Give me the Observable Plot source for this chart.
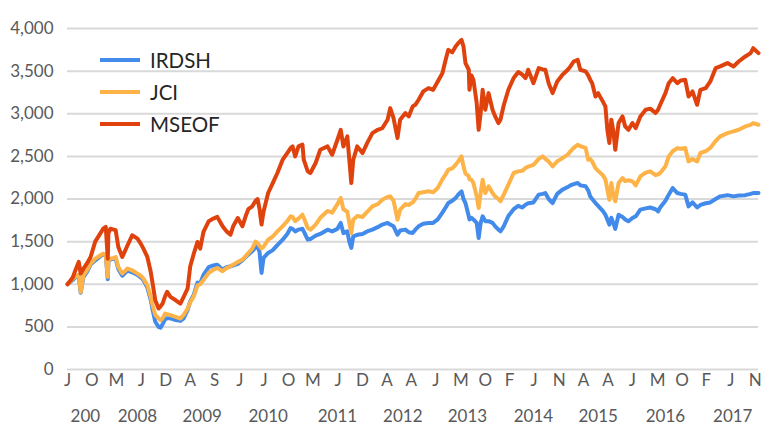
<!DOCTYPE html>
<html>
<head>
<meta charset="utf-8">
<script src="https://cdn.jsdelivr.net/npm/d3@7"></script>
<script src="https://cdn.jsdelivr.net/npm/@observablehq/plot@0.6"></script>
<style>
  html, body { margin: 0; padding: 0; background: #fff; }
  #wrap { position: relative; width: 763px; height: 433px; }
  #legend { position: absolute; left: 100px; top: 44px; font-family: Lato, sans-serif; font-size: 20.5px; color: #262626; }
  .row { display: flex; align-items: center; height: 32px; }
  .sw { width: 40px; height: 4px; margin-right: 10px; }
</style>
</head>
<body>
<div id="wrap"><div id="legend"></div></div>
<script>
const dates = [
2007.44,2007.52,2007.56,2007.61,2007.64,2007.68,2007.74,2007.79,2007.86,2007.94,
2007.98,2008.02,2008.05,2008.06,2008.09,2008.14,2008.17,2008.21,2008.27,2008.35,
2008.42,2008.50,2008.55,2008.59,2008.65,2008.70,2008.73,2008.77,2008.82,2008.85,
2008.88,2008.92,2008.95,2009.00,2009.08,2009.15,2009.20,2009.26,2009.30,2009.35,
2009.41,2009.45,2009.50,2009.58,2009.65,2009.71,2009.79,2009.85,2009.91,2009.95,
2010.02,2010.09,2010.14,2010.18,2010.24,2010.29,2010.32,2010.35,2010.38,2010.41,
2010.48,2010.55,2010.62,2010.70,2010.77,2010.82,2010.85,2010.89,2010.94,2011.00,
2011.02,2011.08,2011.12,2011.20,2011.27,2011.38,2011.45,2011.53,2011.58,2011.62,
2011.68,2011.71,2011.74,2011.77,2011.83,2011.91,2011.98,2012.06,2012.14,2012.21,
2012.29,2012.33,2012.38,2012.44,2012.48,2012.56,2012.61,2012.67,2012.71,2012.76,
2012.83,2012.91,2012.98,2013.05,2013.12,2013.17,2013.21,2013.27,2013.32,2013.36,
2013.41,2013.44,2013.47,2013.52,2013.53,2013.56,2013.59,2013.64,2013.67,2013.70,
2013.73,2013.77,2013.82,2013.88,2013.92,2013.97,2014.00,2014.05,2014.12,2014.20,
2014.27,2014.33,2014.38,2014.42,2014.50,2014.58,2014.64,2014.68,2014.73,2014.79,
2014.86,2014.94,2015.02,2015.06,2015.11,2015.17,2015.21,2015.29,2015.33,2015.36,
2015.39,2015.44,2015.48,2015.55,2015.59,2015.62,2015.65,2015.68,2015.71,2015.74,
2015.79,2015.85,2015.89,2015.94,2016.00,2016.05,2016.12,2016.20,2016.27,2016.35,
2016.39,2016.42,2016.50,2016.55,2016.61,2016.68,2016.73,2016.80,2016.85,2016.91,
2016.98,2017.03,2017.11,2017.18,2017.26,2017.33,2017.44,2017.53,2017.61,2017.71,
2017.79,2017.83,2017.91];

const mseof = [
1000,1080,1164,1262,1125,1180,1250,1320,1500,1600,
1652,1672,1300,1600,1652,1640,1633,1437,1320,1457,
1574,1535,1477,1418,1320,1150,1008,812,715,740,
773,860,910,852,812,773,852,950,1211,1350,
1496,1418,1613,1740,1770,1790,1680,1620,1582,1680,
1777,1680,1800,1880,1914,1980,2000,1880,1700,1850,
2070,2187,2305,2461,2539,2597,2617,2500,2617,2637,
2461,2324,2305,2422,2578,2617,2519,2695,2812,2617,
2734,2461,2187,2461,2617,2539,2656,2773,2812,2832,
2930,3066,2949,2715,2930,3008,2969,3086,3105,3164,
3262,3301,3280,3379,3476,3633,3750,3720,3789,3828,
3867,3789,3594,3516,3281,3450,3398,3125,2812,3008,
3281,3047,3242,3047,2969,2891,2930,3100,3281,3420,
3490,3460,3418,3516,3359,3535,3520,3516,3359,3242,
3379,3457,3516,3555,3613,3633,3516,3496,3450,3400,
3359,3203,3242,3145,3086,2812,2656,2930,2800,2578,
2891,2969,2851,2812,2891,2832,2969,3047,3060,3008,
3050,3105,3242,3359,3418,3359,3390,3398,3203,3262,
3105,3281,3301,3379,3535,3555,3594,3555,3613,3672,
3711,3769,3711];

const jci = [
1000,1066,1090,1110,910,1100,1170,1242,1300,1340,
1360,1340,1086,1280,1300,1310,1320,1203,1125,1184,
1164,1125,1100,1066,988,852,750,640,600,578,
600,656,650,637,617,598,640,715,790,852,
988,1000,1050,1133,1170,1191,1152,1190,1211,1230,
1260,1289,1330,1367,1420,1500,1480,1450,1420,1440,
1523,1560,1620,1680,1740,1797,1790,1740,1770,1816,
1780,1660,1640,1700,1780,1860,1840,1940,2012,1880,
1850,1720,1601,1758,1800,1790,1850,1914,1940,1990,
2025,2031,1980,1758,1875,1940,1930,1960,2000,2070,
2080,2090,2080,2130,2230,2290,2344,2360,2400,2441,
2500,2383,2300,2266,2230,2226,2187,2031,1894,2070,
2226,2070,2148,2070,2030,2000,1973,2051,2168,2305,
2324,2330,2363,2380,2400,2470,2500,2470,2441,2383,
2441,2480,2520,2559,2600,2637,2620,2600,2461,2470,
2440,2363,2330,2280,2230,2109,1992,2187,2050,1973,
2187,2246,2210,2220,2207,2160,2266,2310,2324,2280,
2290,2305,2383,2500,2560,2597,2590,2597,2441,2470,
2440,2540,2560,2600,2680,2734,2773,2793,2812,2851,
2870,2891,2871];

const irdsh = [
1000,1050,1080,1100,900,1080,1150,1230,1280,1330,
1350,1340,1060,1270,1290,1300,1300,1180,1100,1160,
1140,1110,1080,1050,960,820,700,560,500,490,
530,590,600,600,580,570,600,700,800,870,
1020,1010,1110,1200,1220,1230,1172,1200,1211,1220,
1240,1280,1320,1348,1390,1430,1445,1380,1133,1309,
1367,1400,1460,1523,1590,1660,1650,1620,1641,1650,
1620,1523,1530,1570,1590,1640,1620,1650,1719,1600,
1620,1500,1426,1562,1580,1590,1620,1641,1670,1700,
1719,1700,1680,1582,1630,1641,1610,1601,1640,1680,
1710,1719,1719,1760,1840,1900,1953,1980,2010,2051,
2090,2000,1953,1797,1760,1780,1760,1719,1543,1719,
1797,1740,1740,1720,1680,1640,1621,1680,1800,1880,
1920,1900,1933,1950,1960,2051,2060,2070,2000,1953,
2060,2110,2140,2160,2175,2187,2160,2150,2100,2031,
2000,1953,1920,1860,1816,1760,1700,1780,1720,1650,
1816,1790,1760,1738,1777,1797,1875,1890,1900,1880,
1855,1900,1980,2051,2129,2070,2060,2051,1914,1960,
1900,1930,1950,1960,2000,2031,2045,2031,2040,2045,
2060,2070,2070];

const seriesNames = ["IRDSH", "JCI", "MSEOF"];
const seriesColors = ["#428bea", "#fdb347", "#e0420e"];

const yTicks = [0, 500, 1000, 1500, 2000, 2500, 3000, 3500, 4000];
const monthTicks = [2007.44,2007.81,2008.18,2008.56,2008.93,2009.30,2009.67,2010.05,2010.42,2010.79,
  2011.16,2011.54,2011.91,2012.28,2012.65,2013.02,2013.40,2013.77,2014.14,2014.51,
  2014.89,2015.26,2015.63,2016.00,2016.38,2016.75,2017.12,2017.49,2017.86];
const monthLabels = ["J","O","M","J","D","A","S","J","J","O","M","J","D","A","A","J","M","O","F","J","N","A","A","J","M","O","F","J","N"];
const yearCenters = [2007.71,2008.50,2009.48,2010.48,2011.53,2012.52,2013.50,2014.50,2015.48,2016.50,2017.52];
const yearLabels = ["200","2008","2009","2010","2011","2012","2013","2014","2015","2016","2017"];

const valuesBySeries = [irdsh, jci, mseof];
const monthMap = new Map(monthTicks.map((t, i) => [t, monthLabels[i]]));
const yearMap = new Map(yearCenters.map((t, i) => [t, yearLabels[i]]));

const lineMarks = valuesBySeries.map((vals, s) =>
  Plot.line(dates.map((t, i) => ({t, v: vals[i]})), {
    x: "t", y: "v", stroke: seriesColors[s], strokeWidth: 4,
    strokeLinejoin: "round", strokeLinecap: "round"
  })
);

const chart = Plot.plot({
  width: 763,
  height: 433,
  marginLeft: 67,
  marginRight: 5,
  marginTop: 28,
  marginBottom: 64,
  x: {type: "linear", domain: [2007.44, 2017.91], label: null},
  y: {domain: [0, 4000], label: null},
  style: {fontFamily: "Lato, sans-serif", fontSize: "17px", color: "#595959", background: "white"},
  marks: [
    Plot.ruleY(yTicks, {stroke: "#d9d9d9", strokeWidth: 2}),
    Plot.axisY({ticks: yTicks, tickSize: 0, tickPadding: 14, tickFormat: d3.format(","), label: null, fontSize: 17}),
    Plot.axisX({ticks: monthTicks, tickSize: 0, tickPadding: 4, tickFormat: d => monthMap.get(d), label: null, fontSize: 17}),
    Plot.axisX({ticks: yearCenters, tickSize: 0, tickPadding: 40, tickFormat: d => yearMap.get(d), label: null, fontSize: 17}),
    ...lineMarks
  ]
});

const wrap = document.getElementById("wrap");
wrap.insertBefore(chart, wrap.firstChild);

const legend = document.getElementById("legend");
seriesNames.forEach((name, i) => {
  const row = document.createElement("div");
  row.className = "row";
  const sw = document.createElement("div");
  sw.className = "sw";
  sw.style.background = seriesColors[i];
  const label = document.createElement("span");
  label.textContent = name;
  row.appendChild(sw);
  row.appendChild(label);
  legend.appendChild(row);
});
</script>
</body>
</html>
